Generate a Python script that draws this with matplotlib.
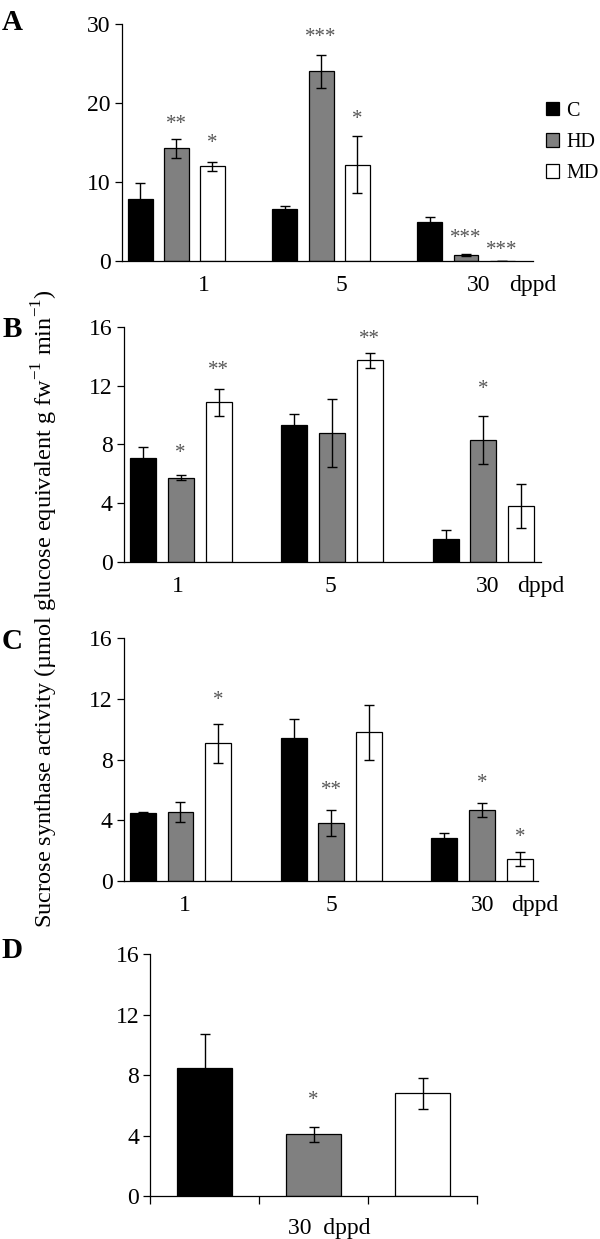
import numpy as np
import matplotlib
matplotlib.use('Agg')
import matplotlib.pyplot as plt
from matplotlib.patches import Patch

plt.rcParams['font.family'] = ['Liberation Serif', 'DejaVu Serif']
plt.rcParams['mathtext.fontset'] = 'custom'
plt.rcParams['mathtext.rm'] = 'Liberation Serif'

treatments = ['C', 'HD', 'MD']
colors = ['#000000', '#808080', '#ffffff']
days = ['1', '5', '30']

# panel A
a_vals = [[7.8, 6.6, 5.0], [14.3, 24.0, 0.8], [12.0, 12.2, 0.05]]
a_err = [[2.1, 0.4, 0.6], [1.2, 2.1, 0.1], [0.6, 3.6, 0.0]]
a_stars = [['', '', ''], ['**', '***', '***'], ['*', '*', '***']]
a_star_y = [[0, 0, 0], [17.3, 28.3, 2.8], [14.9, 17.9, 1.3]]

# panel B
b_vals = [[7.05, 9.35, 1.6], [5.75, 8.8, 8.3], [10.85, 13.7, 3.8]]
b_err = [[0.8, 0.72, 0.6], [0.17, 2.3, 1.63], [0.9, 0.54, 1.5]]
b_stars = [['', '', ''], ['*', '', '*'], ['**', '**', '']]
b_star_y = [[0, 0, 0], [7.4, 0, 11.7], [13.0, 15.1, 0]]

# panel C
c_vals = [[4.5, 9.4, 2.85], [4.55, 3.85, 4.68], [9.08, 9.8, 1.45]]
c_err = [[0.05, 1.25, 0.3], [0.63, 0.86, 0.48], [1.27, 1.8, 0.48]]
c_stars = [['', '', ''], ['', '**', '*'], ['*', '', '*']]
c_star_y = [[0, 0, 0], [0, 6.0, 6.4], [11.9, 0, 2.9]]

# panel D (30 dppd only)
d_vals = [8.5, 4.1, 6.8]
d_err = [2.22, 0.48, 1.0]
d_stars = ['', '*', '']
d_star_y = [0, 6.3, 0]

fig = plt.figure(figsize=(6, 12.39), dpi=100)

def grouped(ax, vals, errs, stars, star_y, ymax, yticks, xlab_pos, fs):
    x = np.arange(len(days))
    for i in range(3):
        xi = x + (i - 1) * 0.25
        ax.bar(xi, vals[i], 0.172, color=colors[i], edgecolor='black',
               linewidth=0.9, zorder=2)
        ax.errorbar(xi, vals[i], yerr=errs[i], fmt='none', ecolor='black',
                    elinewidth=1.0, capsize=3.5, capthick=1.0, zorder=3)
        for j in range(3):
            if stars[i][j]:
                ax.text(xi[j], star_y[i][j], stars[i][j], ha='center',
                        va='center', fontsize=15, color='#555555')
    ax.set_xlim(-0.376, 2.372)
    ax.set_ylim(0, ymax)
    ax.set_yticks(yticks)
    ax.set_xticks(xlab_pos)
    ax.set_xticklabels(days + ['dppd'])
    ax.tick_params(axis='x', length=0, pad=10, labelsize=fs)
    ax.tick_params(axis='y', direction='out', length=5, width=0.9,
                   labelsize=fs, pad=3)
    for s in ['top', 'right']:
        ax.spines[s].set_visible(False)
    for s in ['left', 'bottom']:
        ax.spines[s].set_linewidth(0.9)

axA = fig.add_axes([0.203, 0.7893, 0.6847, 0.1913])
grouped(axA, a_vals, a_err, a_stars, a_star_y, 30, [0, 10, 20, 30],
        [0.19, 1.14, 2.09, 2.46], 17)
handles = [Patch(facecolor=c, edgecolor='black', linewidth=0.9) for c in colors]
axA.legend(handles, treatments, loc='center left', bbox_to_anchor=(1.033, 0.5),
           frameon=False, fontsize=14.5, handlelength=0.63, handleheight=0.63,
           handletextpad=0.38, labelspacing=0.6, borderpad=0, borderaxespad=0)

axB = fig.add_axes([0.2063, 0.5462, 0.6953, 0.1902])
grouped(axB, b_vals, b_err, b_stars, b_star_y, 16, [0, 4, 8, 12, 16],
        [-0.02, 0.99, 2.03, 2.38], 17)

axC = fig.add_axes([0.2063, 0.2889, 0.6908, 0.1959])
grouped(axC, c_vals, c_err, c_stars, c_star_y, 16, [0, 4, 8, 12, 16],
        [0.03, 1.0, 2.0, 2.35], 17)

axD = fig.add_axes([0.2503, 0.0345, 0.5447, 0.1953])
xd = np.arange(3) + 0.5
axD.bar(xd, d_vals, 0.5, color=colors, edgecolor='black', linewidth=0.9, zorder=2)
axD.errorbar(xd, d_vals, yerr=d_err, fmt='none', ecolor='black', elinewidth=1.0,
             capsize=3.5, capthick=1.0, zorder=3)
for k in range(3):
    if d_stars[k]:
        axD.text(xd[k], d_star_y[k], d_stars[k], ha='center', va='center',
                 fontsize=15, color='#555555')
axD.set_xlim(0, 3)
axD.set_ylim(0, 16)
axD.set_yticks([0, 4, 8, 12, 16])
axD.set_xticks([0, 1, 2, 3], minor=True)
axD.set_xticks([1.646])
axD.set_xticklabels(['30  dppd'])
axD.tick_params(axis='x', which='major', length=0, pad=16, labelsize=17)
axD.tick_params(axis='x', which='minor', direction='out', length=5.5, width=0.9)
axD.tick_params(axis='y', direction='out', length=5, width=0.9, labelsize=17, pad=3)
for s in ['top', 'right']:
    axD.spines[s].set_visible(False)
for s in ['left', 'bottom']:
    axD.spines[s].set_linewidth(0.9)

for lab, y in zip(['A', 'B', 'C', 'D'], [0.982, 0.734, 0.482, 0.233]):
    fig.text(0.02, y, lab, fontsize=21, fontweight='bold', ha='center', va='center')

fig.text(0.075, 0.509,
         'Sucrose synthase activity (\u00b5mol glucose equivalent g fw$^{-1}$ min$^{-1}$)',
         rotation=90, ha='center', va='center', fontsize=17.5)

fig.savefig('out.png', dpi=100)
